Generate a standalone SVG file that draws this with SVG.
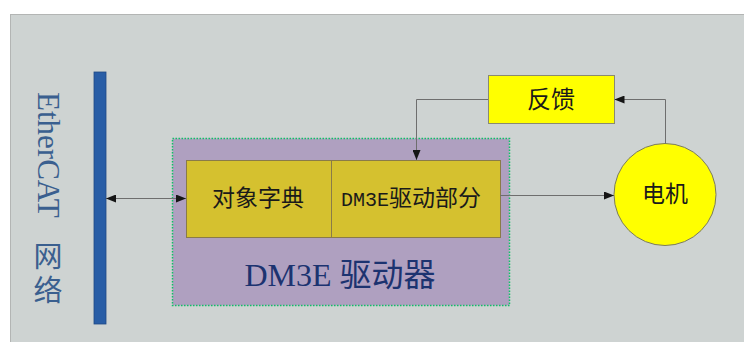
<svg xmlns="http://www.w3.org/2000/svg" width="744" height="342" viewBox="0 0 744 342">
  <style>
    .cjk { font-family: "Liberation Serif", "Noto Sans CJK SC", serif; }
    .lbl { fill: #1a1a1a; text-anchor: middle; }
    .conn { fill: none; stroke: #6e6e6e; stroke-width: 1; }
    .ybox { fill: #d5c12f; stroke: #8a7b48; stroke-width: 1; }
  </style>
  <defs>
    <marker id="arr" viewBox="0 0 10 8" refX="10" refY="4" markerWidth="10" markerHeight="8" markerUnits="userSpaceOnUse" orient="auto-start-reverse">
      <path d="M0,0 L10,4 L0,8 Z" fill="#151515"/>
    </marker>
  </defs>

  <rect x="0" y="0" width="744" height="342" fill="#ffffff"/>
  <g id="panel">
    <rect x="10.5" y="14.5" width="740" height="340" fill="#ced3d2" stroke="#b3b5b4" stroke-width="1"/>
  </g>

  <g id="ethercat">
    <rect x="94" y="72" width="12" height="252" fill="#285da6" stroke="#1f4a86" stroke-width="0.8"/>
    <text class="cjk" transform="translate(38,92) rotate(90)" font-size="31" fill="#3a5f8f">EtherCAT</text>
    <text class="cjk" x="48" y="267" font-size="29" fill="#3a5f8f" text-anchor="middle">网</text>
    <text class="cjk" x="48" y="301" font-size="29" fill="#3a5f8f" text-anchor="middle">络</text>
  </g>

  <g id="driver">
    <rect x="172.5" y="138.5" width="337" height="167" fill="#afa0c0" stroke="#10c068" stroke-width="1.5" stroke-dasharray="1.5 1.5"/>
    <text class="cjk" x="340" y="286" font-size="32" fill="#1c3370" text-anchor="middle">DM3E 驱动器</text>
  </g>

  <g id="dict">
    <rect class="ybox" x="186.5" y="160.5" width="145" height="77"/>
    <text class="cjk lbl" x="258" y="206" font-size="23">对象字典</text>
  </g>

  <g id="drivepart">
    <rect class="ybox" x="331.5" y="160.5" width="169" height="77"/>
    <text class="cjk" x="341" y="206" font-size="23" fill="#1a1a1a"><tspan font-family="Liberation Mono, monospace" font-size="20">DM3E</tspan>驱动部分</text>
  </g>

  <g id="feedback">
    <rect x="488.5" y="75.5" width="126" height="48" fill="#ffff00" stroke="#8a8a70" stroke-width="1"/>
    <text class="cjk lbl" x="551" y="108" font-size="24">反馈</text>
  </g>

  <g id="motor">
    <circle cx="665" cy="194.5" r="51" fill="#ffff00" stroke="#7a7a60" stroke-width="1"/>
    <text class="cjk lbl" x="665" y="202" font-size="23">电机</text>
  </g>

  <g id="connectors">
    <path class="conn" d="M106,198.5 L186,198.5" marker-start="url(#arr)" marker-end="url(#arr)"/>
    <path class="conn" d="M488,99.5 L416.5,99.5 L416.5,160" marker-end="url(#arr)"/>
    <path class="conn" d="M665.5,143.5 L665.5,99.5 L614.5,99.5" marker-end="url(#arr)"/>
    <path class="conn" d="M500,195.5 L614,195.5" marker-end="url(#arr)"/>
  </g>
</svg>
